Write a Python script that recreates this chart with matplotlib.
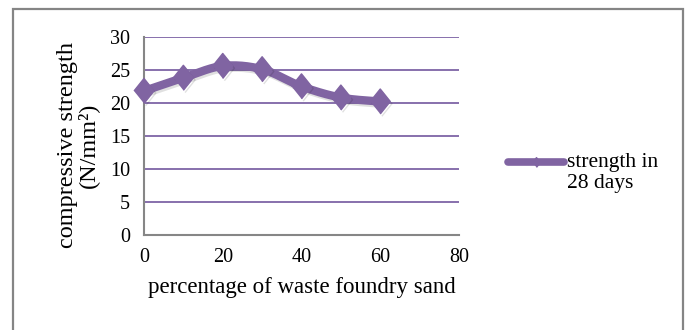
import numpy as np
import matplotlib
matplotlib.use("Agg")
import matplotlib.pyplot as plt
from matplotlib.lines import Line2D
from matplotlib.patches import Rectangle
import matplotlib.patheffects as pe

# Compressive strength after 28 days vs. foundry sand replacement
sand_pct = [0, 10, 20, 30, 40, 50, 60]
strength_28d = [21.8, 23.8, 25.6, 25.1, 22.5, 20.8, 20.2]
series_label = "strength in\n28 days"
x_ticks = [0, 20, 40, 60, 80]
y_ticks = [0, 5, 10, 15, 20, 25, 30]

PURPLE = "#8064A2"
GRID = "#7E64A6"
AXIS_GRAY = "#868686"

plt.rcParams["font.family"] = ["Liberation Serif", "DejaVu Serif"]


def smooth_curve(xs, ys, n=30):
    """Bezier smoothing through the points (tangents from neighbouring points)."""
    p = np.column_stack([xs, ys]).astype(float)
    out = [p[0]]
    for i in range(len(p) - 1):
        p0 = p[i - 1] if i > 0 else p[i]
        p1, p2 = p[i], p[i + 1]
        p3 = p[i + 2] if i + 2 < len(p) else p[i + 1]
        c1 = p1 + (p2 - p0) / 6.0
        c2 = p2 - (p3 - p1) / 6.0
        t = np.linspace(0, 1, n)[1:, None]
        seg = ((1 - t) ** 3) * p1 + 3 * ((1 - t) ** 2) * t * c1 \
            + 3 * (1 - t) * t ** 2 * c2 + t ** 3 * p2
        out.extend(seg)
    out = np.array(out)
    return out[:, 0], out[:, 1]


fig = plt.figure(figsize=(6.89, 3.30), dpi=100)

# outer chart frame
fig.patches.append(Rectangle((13 / 689, -0.1), (683 - 13) / 689, 1.1 - 9 / 330,
                             transform=fig.transFigure, fill=False,
                             edgecolor="#858585", linewidth=1.6, zorder=0))

ax = fig.add_axes([144 / 689, 1 - 234.5 / 330, (459 - 144) / 689, (234.5 - 37) / 330])
ax.set_xlim(0, 80)
ax.set_ylim(0, 30)
ax.set_xticks(x_ticks)
ax.set_yticks(y_ticks)
ax.tick_params(length=0, labelsize=14.5)
ax.tick_params(axis="x", pad=10)
ax.tick_params(axis="y", pad=10)

for v in y_ticks[1:]:
    ax.axhline(v, color=GRID, linewidth=1.3, zorder=1)

for side in ["top", "right"]:
    ax.spines[side].set_visible(False)
for side in ["left", "bottom"]:
    ax.spines[side].set_color(AXIS_GRAY)
    ax.spines[side].set_linewidth(1.5)

shadow = [pe.SimpleLineShadow(offset=(1.2, -1.6), shadow_color="black", alpha=0.12),
          pe.Normal()]
sx, sy = smooth_curve(sand_pct, strength_28d)
ax.plot(sx, sy, color=PURPLE, linewidth=6, solid_capstyle="round",
        zorder=3, path_effects=shadow, clip_on=False)
diamond = [(-0.4, 0), (0, 0.5), (0.4, 0), (0, -0.5)]
ax.plot(sand_pct, strength_28d, linestyle="none", marker=diamond, markersize=18,
        color=PURPLE, markeredgecolor=PURPLE, zorder=4, path_effects=shadow,
        clip_on=False)

ax.set_xlabel("percentage of waste foundry sand", fontsize=16.5, labelpad=7)
fig.text(78 / 689, 1 - 145 / 330, "compressive strength\n(N/mm²)", rotation=90,
         fontsize=17.5, ha="center", va="center", multialignment="center",
         linespacing=0.95)

# legend entry: key line at the height of the first text line
key_y = 1 - 162 / 330
fig.add_artist(Line2D([508 / 689, 564 / 689], [key_y, key_y], color=PURPLE,
                      linewidth=5.5, solid_capstyle="round"))
fig.add_artist(Line2D([536 / 689], [key_y], color=PURPLE, marker=diamond,
                      markersize=7, linestyle="none"))
fig.text(567 / 689, 1 - 173 / 330, series_label, fontsize=15.5, ha="left", va="center",
         linespacing=1.12, transform=fig.transFigure)

fig.savefig("out.png", dpi=100)
